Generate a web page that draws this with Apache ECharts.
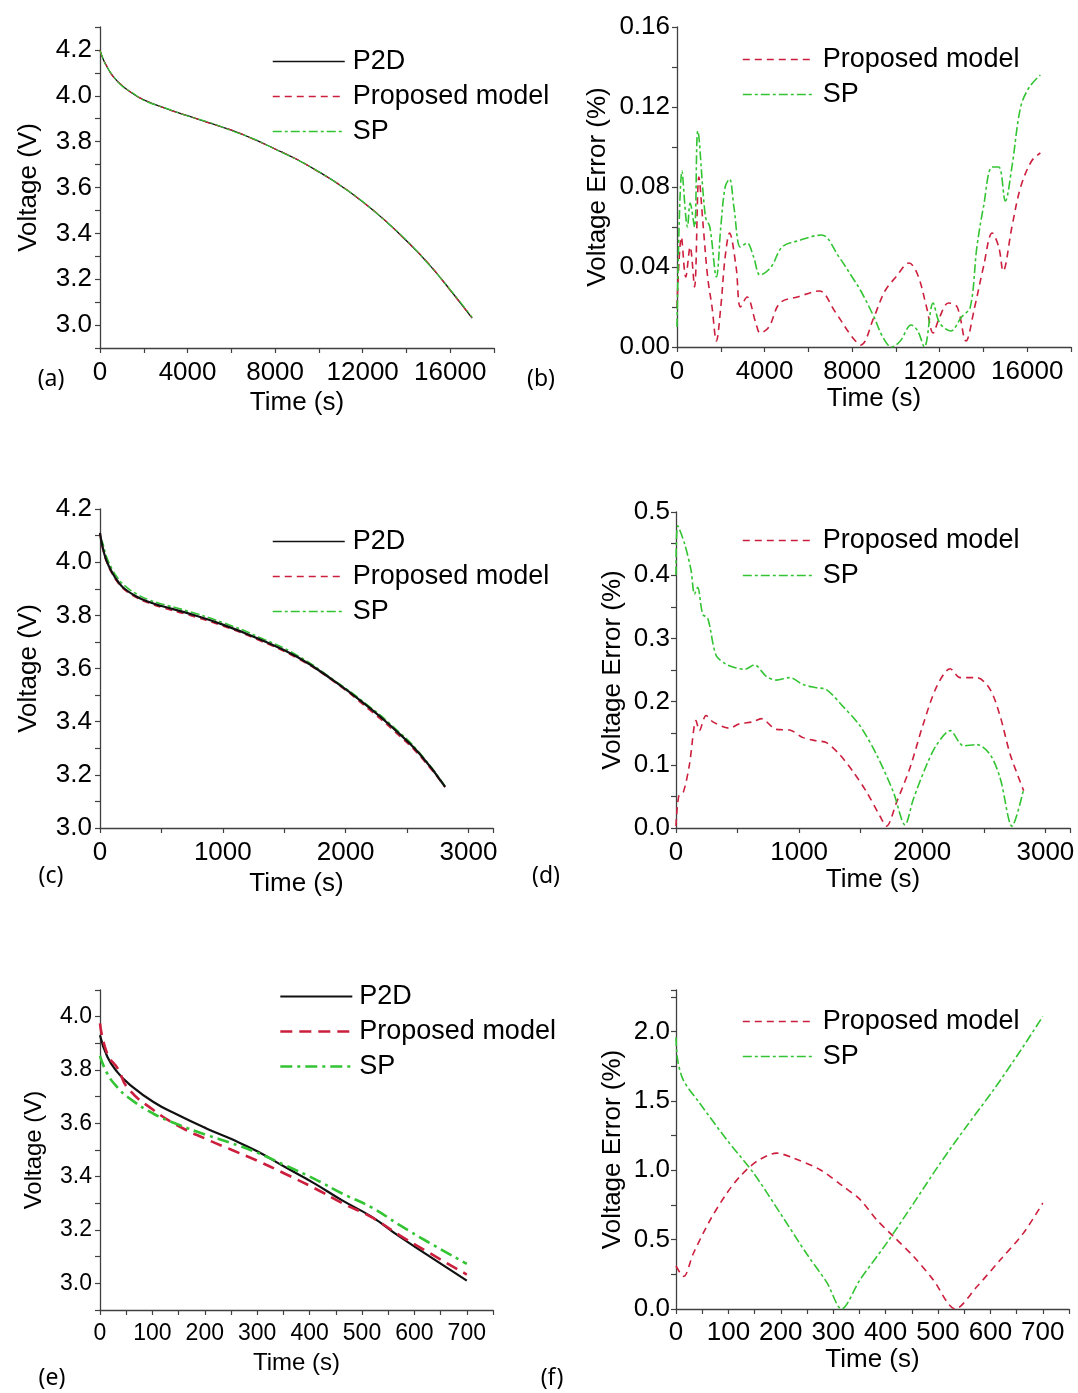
<!DOCTYPE html>
<html><head><meta charset="utf-8">
<script src="https://cdn.jsdelivr.net/npm/echarts@6/dist/echarts.min.js"></script>
<style>html,body{margin:0;padding:0;background:#fff}#chart{width:1078px;height:1393px}</style>
</head><body><div id="chart"></div>
<script>
// ---------------- DATA ----------------
const legendNames = ['P2D', 'Proposed model', 'SP'];

// (a) voltage, low rate
const aTime = [0,100,300,600,1000,1500,2000,3000,4000,5000,6000,7000,8000,9000,10000,11000,12000,13000,14000,15000,16000,17000];
const aP2D = [4.20,4.17,4.13,4.085,4.045,4.01,3.982,3.945,3.913,3.882,3.85,3.812,3.768,3.722,3.668,3.608,3.538,3.458,3.368,3.268,3.153,3.03];
const aProposed = [4.199,4.168,4.132,4.083,4.046,4.009,3.983,3.944,3.913,3.881,3.851,3.811,3.768,3.723,3.667,3.609,3.537,3.459,3.366,3.27,3.151,3.032];
const aSP = [4.197,4.172,4.128,4.087,4.043,4.012,3.980,3.946,3.912,3.884,3.848,3.813,3.767,3.721,3.669,3.607,3.539,3.457,3.37,3.266,3.155,3.034];
const aXLabels = [0,4000,8000,12000,16000];
const aYLabels = [3.0,3.2,3.4,3.6,3.8,4.0,4.2];

// (b) voltage error, low rate
const bTimeProposed = [0,200,400,600,800,1000,1200,1400,1600,1800,2000,2200,2400,2700,2900,3200,3600,3800,4200,4700,5500,6500,7200,8000,8400,9000,9500,10000,10600,11000,11400,11700,12000,12400,12800,13200,13600,14000,14400,14700,14900,15300,15700,16200,16600];
const bProposed = [0.02,0.055,0.035,0.05,0.03,0.085,0.06,0.035,0.02,0.003,0.02,0.045,0.057,0.04,0.02,0.025,0.012,0.007,0.01,0.022,0.025,0.028,0.018,0.005,0.001,0.015,0.028,0.035,0.042,0.036,0.02,0.007,0.015,0.022,0.02,0.003,0.02,0.04,0.057,0.05,0.038,0.06,0.08,0.093,0.097];
const bTimeSP = [0,230,480,600,800,950,1300,1500,1800,2000,2200,2400,2600,2900,3200,3500,3800,4300,4800,5500,6600,7400,8000,8400,9000,9400,9800,10200,10700,11000,11300,11700,12000,12500,13000,13400,13700,14000,14400,14700,15000,15300,15700,16100,16600];
const bSP = [0.01,0.088,0.06,0.072,0.06,0.108,0.065,0.06,0.035,0.06,0.08,0.084,0.07,0.05,0.052,0.045,0.036,0.04,0.05,0.053,0.056,0.045,0.035,0.028,0.015,0.005,0.0,0.003,0.011,0.008,0.0,0.022,0.012,0.008,0.015,0.02,0.05,0.07,0.09,0.09,0.073,0.09,0.12,0.13,0.136];
const bXLabels = [0,4000,8000,12000,16000];
const bYLabels = [0,0.04,0.08,0.12,0.16];

// (c) voltage, medium rate
const cTime = [0,20,50,100,150,200,300,400,500,700,1000,1300,1600,1900,2200,2400,2600,2810];
const cP2D = [4.11,4.06,4.01,3.96,3.925,3.90,3.87,3.85,3.835,3.81,3.765,3.71,3.645,3.555,3.45,3.37,3.28,3.155];
const cProposed = [4.108,4.055,4.005,3.955,3.92,3.896,3.866,3.846,3.83,3.804,3.76,3.705,3.64,3.552,3.442,3.362,3.273,3.153];
const cSP = [4.09,4.075,4.025,3.973,3.937,3.912,3.88,3.858,3.843,3.818,3.773,3.717,3.651,3.558,3.455,3.376,3.284,3.157];
const cXLabels = [0,1000,2000,3000];
const cYLabels = [3.0,3.2,3.4,3.6,3.8,4.0,4.2];

// (d) voltage error, medium rate
const dTimeProposed = [0,22,60,109,163,190,244,299,434,516,625,692,815,923,1032,1140,1222,1330,1439,1548,1656,1710,1792,1900,2009,2118,2227,2308,2444,2552,2634,2715,2824];
const dProposed = [0.003,0.05,0.057,0.10,0.17,0.154,0.178,0.168,0.158,0.165,0.168,0.173,0.156,0.155,0.143,0.138,0.135,0.116,0.089,0.057,0.019,0.003,0.041,0.095,0.165,0.224,0.252,0.238,0.238,0.219,0.176,0.116,0.059];
const dTimeSP = [0,14,68,122,150,176,217,258,326,407,475,557,638,733,815,923,1032,1140,1222,1358,1493,1629,1765,1860,1928,2036,2118,2227,2335,2444,2552,2634,2729,2824];
const dSP = [0.40,0.478,0.451,0.408,0.37,0.381,0.338,0.332,0.273,0.259,0.254,0.251,0.258,0.240,0.234,0.238,0.227,0.222,0.219,0.192,0.162,0.116,0.057,0.005,0.046,0.10,0.132,0.154,0.13,0.132,0.116,0.078,0.003,0.062];
const dXLabels = [0,1000,2000,3000];
const dYLabels = [0,0.1,0.2,0.3,0.4,0.5];

// (e) voltage, high rate
const eTime = [0,14,34,54,102,150,204,252,300,354,409,463,518,572,626,700];
const eP2D = [3.93,3.85,3.79,3.75,3.68,3.63,3.58,3.54,3.495,3.435,3.375,3.31,3.25,3.175,3.105,3.01];
const eProposed = [3.975,3.86,3.805,3.73,3.65,3.59,3.54,3.50,3.46,3.41,3.357,3.30,3.248,3.18,3.117,3.033];
const eSP = [3.853,3.786,3.733,3.697,3.636,3.595,3.556,3.525,3.49,3.442,3.392,3.336,3.285,3.218,3.155,3.073];
const eXLabels = [0,100,200,300,400,500,600,700];
const eYLabels = [3.0,3.2,3.4,3.6,3.8,4.0];

// (f) voltage error, high rate
const fTimeProposed = [0,8,15,33,65,97,122,154,192,224,275,319,351,383,415,453,491,533,574,619,663,700];
const fProposed = [0.31,0.26,0.235,0.40,0.64,0.835,0.955,1.064,1.124,1.088,1.004,0.884,0.79,0.643,0.523,0.38,0.21,0.0,0.16,0.355,0.547,0.764];
const fTimeSP = [0,3,14,46,97,148,199,249,288,316,351,402,453,504,555,606,657,700];
const fSP = [1.96,1.80,1.65,1.48,1.22,0.98,0.69,0.40,0.19,0.0,0.21,0.475,0.76,1.05,1.32,1.58,1.86,2.11];
const fXLabels = [0,100,200,300,400,500,600,700];
const fYLabels = [0,0.5,1.0,1.5,2.0];

const panelLabels = ['(a)', '(b)', '(c)', '(d)', '(e)', '(f)'];

// ---------------- STYLE / LAYOUT ----------------
const FONT = '"Liberation Sans", Arial, Helvetica, sans-serif';
const BLACK = '#111111';
const RED = '#cc1f3d';
const GREEN = '#33c433';

function zip(t, v) { return t.map((x, i) => [x, v[i]]); }
function fmt(list, digits) {
  return function (v) {
    return list.some(function (l) { return Math.abs(l - v) < 1e-6; }) ? Number(v).toFixed(digits) : '';
  };
}
function axis(grid, min, max, step, labels, digits, fs, name, nameGap, nameFs, margin) {
  return {
    type: 'value', gridIndex: grid, min: min, max: max, interval: step,
    name: name, nameLocation: 'middle', nameGap: nameGap,
    nameTextStyle: { color: '#000', fontSize: nameFs, fontFamily: FONT },
    axisLine: { show: true, onZero: false, lineStyle: { color: '#404040', width: 1.3 } },
    axisTick: { show: true, length: 5, lineStyle: { color: '#404040', width: 1.2 } },
    splitLine: { show: false },
    axisLabel: { color: '#000', fontSize: fs, fontFamily: FONT, margin: margin, formatter: fmt(labels, digits) }
  };
}
function line(name, grid, data, color, width, type, smooth) {
  return {
    type: 'line', name: name, xAxisIndex: grid, yAxisIndex: grid, data: data,
    symbol: 'none', showSymbol: false, smooth: smooth, color: color,
    lineStyle: { color: color, width: width, type: type }, animation: false
  };
}
function legend(names, styles, left, top, itemWidth, fs, pad) {
  return {
    show: true, orient: 'vertical', left: left, top: top, itemWidth: itemWidth, itemHeight: 14,
    itemGap: 8, padding: 0, selectedMode: false,
    textStyle: { color: '#000', fontSize: fs, fontFamily: FONT, padding: [0, 0, 0, pad] },
    data: names.map(function (n, i) {
      return { name: n, lineStyle: styles[i], itemStyle: { opacity: 0 } };
    })
  };
}

const dashP = [7, 5];
const dashSP = [9, 3, 3, 3];

const option = {
  backgroundColor: '#ffffff',
  animation: false,
  grid: [
    { left: 100, top: 27, width: 394, height: 321 },
    { left: 677, top: 27, width: 394, height: 320 },
    { left: 100, top: 509, width: 393, height: 319 },
    { left: 676, top: 512, width: 394, height: 316 },
    { left: 100, top: 990, width: 393, height: 320 },
    { left: 676, top: 990, width: 393, height: 319 }
  ],
  xAxis: [
    axis(0, 0, 18000, 2000, aXLabels, 0, 26, 'Time (s)', 42, 26, 12),
    axis(1, 0, 18000, 2000, bXLabels, 0, 26, 'Time (s)', 39, 26, 12),
    axis(2, 0, 3200, 500, cXLabels, 0, 26, 'Time (s)', 43, 26, 12),
    axis(3, 0, 3200, 500, dXLabels, 0, 26, 'Time (s)', 38, 26, 12),
    axis(4, 0, 750, 50, eXLabels, 0, 23, 'Time (s)', 41, 24, 12),
    axis(5, 0, 750, 50, fXLabels, 0, 26, 'Time (s)', 37, 26, 11)
  ],
  yAxis: [
    axis(0, 2.9, 4.3, 0.1, aYLabels, 1, 26, 'Voltage (V)', 58, 26, 8),
    axis(1, 0, 0.16, 0.02, bYLabels, 2, 26, 'Voltage Error (%)', 66, 26, 7),
    axis(2, 3.0, 4.2, 0.1, cYLabels, 1, 26, 'Voltage (V)', 58, 26, 8),
    axis(3, 0, 0.5, 0.05, dYLabels, 1, 26, 'Voltage Error (%)', 50, 26, 6),
    axis(4, 2.9, 4.1, 0.1, eYLabels, 1, 23, 'Voltage (V)', 54, 24, 8),
    axis(5, 0, 2.3, 0.25, fYLabels, 1, 26, 'Voltage Error (%)', 50, 26, 6)
  ],
  legend: [
    legend(legendNames, [
      { color: BLACK, width: 1.5, type: 'solid' },
      { color: RED, width: 1.5, type: dashP },
      { color: GREEN, width: 1.5, type: dashSP }], 272, 48, 72, 27, 3),
    legend(legendNames.slice(1), [
      { color: RED, width: 1.6, type: dashP },
      { color: GREEN, width: 1.6, type: dashSP }], 742, 46, 70, 27, 5),
    legend(legendNames, [
      { color: BLACK, width: 1.5, type: 'solid' },
      { color: RED, width: 1.5, type: dashP },
      { color: GREEN, width: 1.5, type: dashSP }], 272, 528, 72, 27, 3),
    legend(legendNames.slice(1), [
      { color: RED, width: 1.6, type: dashP },
      { color: GREEN, width: 1.6, type: dashSP }], 742, 527, 70, 27, 5),
    legend(legendNames, [
      { color: BLACK, width: 2, type: 'solid' },
      { color: RED, width: 2.6, type: [12, 7] },
      { color: GREEN, width: 2.6, type: [12, 5, 3, 5] }], 279, 983, 72, 27, 2),
    legend(legendNames.slice(1), [
      { color: RED, width: 1.6, type: dashP },
      { color: GREEN, width: 1.6, type: dashSP }], 742, 1008, 70, 27, 5)
  ],
  series: [
    line('P2D', 0, zip(aTime, aP2D), BLACK, 1.3, 'solid', true),
    line('Proposed model', 0, zip(aTime, aProposed), RED, 1.2, dashP, true),
    line('SP', 0, zip(aTime, aSP), GREEN, 1.2, dashSP, true),

    line('Proposed model', 1, zip(bTimeProposed, bProposed), RED, 1.6, dashP, 0.35),
    line('SP', 1, zip(bTimeSP, bSP), GREEN, 1.6, dashSP, 0.35),

    line('SP', 2, zip(cTime, cSP), GREEN, 1.6, dashSP, true),
    line('Proposed model', 2, zip(cTime, cProposed), RED, 1.6, dashP, true),
    line('P2D', 2, zip(cTime, cP2D), BLACK, 2.2, 'solid', true),

    line('Proposed model', 3, zip(dTimeProposed, dProposed), RED, 1.6, dashP, 0.3),
    line('SP', 3, zip(dTimeSP, dSP), GREEN, 1.6, dashSP, 0.3),

    line('P2D', 4, zip(eTime, eP2D), BLACK, 2.2, 'solid', true),
    line('Proposed model', 4, zip(eTime, eProposed), RED, 2.6, [12, 7], true),
    line('SP', 4, zip(eTime, eSP), GREEN, 2.6, [12, 5, 3, 5], true),

    line('Proposed model', 5, zip(fTimeProposed, fProposed), RED, 1.6, dashP, 0.3),
    line('SP', 5, zip(fTimeSP, fSP), GREEN, 1.6, dashSP, 0.3)
  ],
  graphic: [
    [51, 379], [541, 379], [51, 876], [546, 876], [52, 1378], [552, 1378]
  ].map(function (p, i) {
    return {
      type: 'text', x: p[0], y: p[1], silent: true,
      style: { text: panelLabels[i], fill: '#000', font: '23px "Noto Sans", "Open Sans", sans-serif',
        textAlign: 'center', textVerticalAlign: 'middle' }
    };
  })
};

const chart = echarts.init(document.getElementById('chart'), null, { renderer: 'canvas' });
chart.setOption(option);
</script></body></html>
